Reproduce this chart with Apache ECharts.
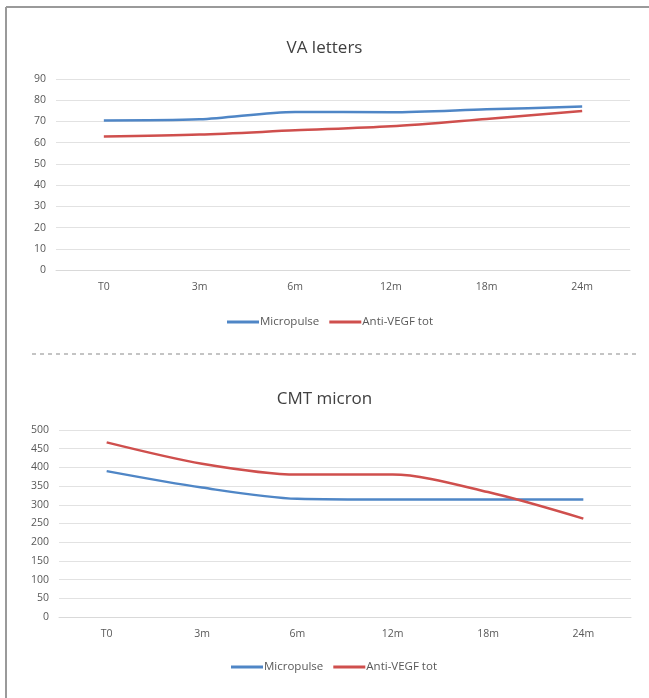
<!DOCTYPE html>
<html><head><meta charset="utf-8">
<script src="https://cdn.jsdelivr.net/npm/echarts@6/dist/echarts.min.js"></script>
<style>html,body{margin:0;padding:0;background:#fff;}#c{width:649px;height:698px;}</style>
</head><body><div id="c"></div>
<script>
const categories = ['T0','3m','6m','12m','18m','24m'];
const vaMicropulse = [70.5, 71, 74.5, 74.3, 75.7, 77];
const vaAntiVEGF = [62.9, 63.8, 65.8, 67.7, 71.2, 74.9];
const cmtMicropulse = [390, 346, 316, 314, 314, 314];
const cmtAntiVEGF = [467, 410, 381, 381, 334, 263];
const seriesNames = ['Micropulse', 'Anti-VEGF tot'];
const titles = ['VA letters', 'CMT micron'];

const BLUE = '#4f86c6', RED = '#cf4f4d';
const FONT = '"Open Sans", "Liberation Sans", sans-serif';
const chart = echarts.init(document.getElementById('c'));
function yAxis(i, max, interval) {
  return { type:'value', gridIndex:i, min:0, max:max, interval:interval,
    axisLine:{show:false}, axisTick:{show:false},
    axisLabel:{color:'#595959', fontSize:10.5, fontFamily:FONT, margin:10},
    splitLine:{lineStyle:{color:'#e2e2e2', width:1}} };
}
function xAxis(i) {
  return { type:'category', gridIndex:i, data:categories, boundaryGap:true,
    axisLine:{lineStyle:{color:'#d9d9d9'}}, axisTick:{show:false},
    axisLabel:{color:'#595959', fontSize:10.5, fontFamily:FONT, margin:12} };
}
function line(name, data, color, i) {
  return { name:name, type:'line', xAxisIndex:i, yAxisIndex:i, data:data, smooth:0.3,
    symbol:'none', lineStyle:{color:color, width:2.5}, itemStyle:{color:color} };
}
const legendCommon = { itemWidth:32, itemHeight:3, itemGap:10, icon:'rect',
  textStyle:{color:'#595959', fontSize:11.5, fontFamily:FONT, padding:[0,0,0,-4]} };
chart.setOption({
  animation:false,
  title:[
    {text:titles[0], left:'center', top:35, textStyle:{fontFamily:FONT, fontSize:17, fontWeight:'normal', color:'#404040'}},
    {text:titles[1], left:'center', top:386, textStyle:{fontFamily:FONT, fontSize:17, fontWeight:'normal', color:'#404040'}}
  ],
  legend:[
    Object.assign({}, legendCommon, {data:seriesNames, left:222, top:311}),
    Object.assign({}, legendCommon, {data:seriesNames, left:226, top:656})
  ],
  grid:[
    {left:56, right:19, top:79, height:191},
    {left:59, right:18, top:430, height:187}
  ],
  xAxis:[xAxis(0), xAxis(1)],
  yAxis:[yAxis(0, 90, 10), yAxis(1, 500, 50)],
  series:[
    line(seriesNames[0], vaMicropulse, BLUE, 0),
    line(seriesNames[1], vaAntiVEGF, RED, 0),
    line(seriesNames[0], cmtMicropulse, BLUE, 1),
    line(seriesNames[1], cmtAntiVEGF, RED, 1)
  ],
  graphic:[
    {type:'line', shape:{x1:6, y1:7, x2:660, y2:7}, style:{stroke:'#9a9a9a', lineWidth:2}},
    {type:'line', shape:{x1:6, y1:7, x2:6, y2:710}, style:{stroke:'#9a9a9a', lineWidth:2}},
    {type:'line', shape:{x1:32, y1:354, x2:640, y2:354}, style:{stroke:'#8a8a8a', lineWidth:1, lineDash:[4,4]}}
  ]
});
</script></body></html>
